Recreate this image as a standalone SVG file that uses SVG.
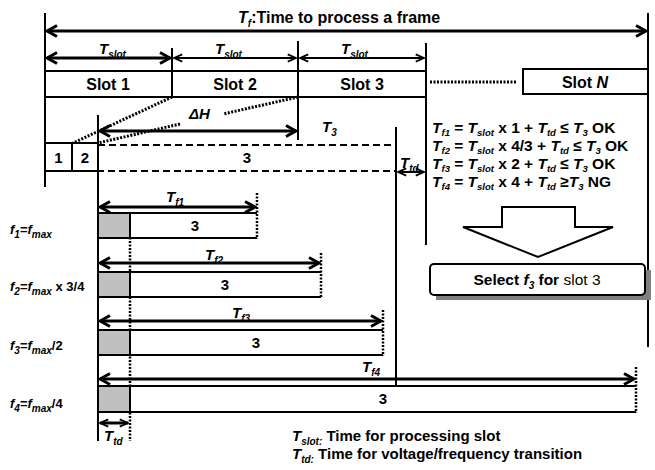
<svg xmlns="http://www.w3.org/2000/svg" width="655" height="470" viewBox="0 0 655 470">
<style>
text{font-family:"Liberation Sans",Arial,sans-serif;font-weight:bold;fill:#000}
.i{font-style:italic}
.s{font-size:10px;font-style:italic;baseline-shift:-4px}
.rl .s{font-size:9.5px;baseline-shift:-3px}
.ln{stroke:#000;stroke-width:2;fill:none}
.thk{stroke:#000;stroke-width:3;fill:none}
.thn{stroke:#000;stroke-width:2;fill:none}
.dot{stroke:#000;stroke-width:3;stroke-dasharray:2 1.5;fill:none}
.dotv{stroke:#000;stroke-width:2.5;stroke-dasharray:2 1.5;fill:none}
.dash{stroke:#000;stroke-width:2;stroke-dasharray:7 4;fill:none}
.box{fill:#fff;stroke:#000;stroke-width:2}
.gray{fill:#c0c0c0;stroke:#000;stroke-width:2}
.sl{font-size:16px}
.rl{font-size:15.5px}
</style>
<defs>
<marker id="ah" viewBox="0 0 14 14" refX="12" refY="7" markerWidth="14" markerHeight="14" markerUnits="userSpaceOnUse" orient="auto-start-reverse">
<path d="M2,1.5 L12,7 L2,12.5" fill="none" stroke="#000" stroke-width="3"/>
</marker>
<marker id="as" viewBox="0 0 12 12" refX="11" refY="6" markerWidth="11" markerHeight="11" markerUnits="userSpaceOnUse" orient="auto-start-reverse">
<path d="M2,2 L11,6 L2,10" fill="none" stroke="#000" stroke-width="2"/>
</marker>
</defs>

<g id="frame">
<line class="ln" x1="45" y1="13" x2="45" y2="187"/>
<line class="ln" x1="648" y1="13" x2="648" y2="347"/>
<line class="ln" x1="172" y1="48" x2="172" y2="97"/>
<line class="ln" x1="298" y1="41" x2="298" y2="140"/>
<line class="ln" x1="426" y1="43" x2="426" y2="245"/>
<line class="ln" x1="396" y1="127" x2="396" y2="413"/>
<line class="ln" x1="98" y1="115" x2="98" y2="441"/>
<line class="dotv" x1="130" y1="213" x2="130" y2="441"/>
</g>

<g id="title">
<text x="238" y="23" font-size="16"><tspan class="i">T</tspan><tspan class="s">f</tspan><tspan>:Time to process a frame</tspan></text>
</g>

<g id="slots">
<g id="slot1"><rect class="box" x="45" y="71" width="127" height="26"/><text class="sl" x="108" y="90" text-anchor="middle">Slot 1</text></g>
<g id="slot2"><rect class="box" x="172" y="71" width="126" height="26"/><text class="sl" x="235" y="90" text-anchor="middle">Slot 2</text></g>
<g id="slot3"><rect class="box" x="298" y="71" width="128" height="26"/><text class="sl" x="362" y="90" text-anchor="middle">Slot 3</text></g>
<g id="slotN"><rect class="box" x="523" y="69" width="125" height="25"/><text class="sl" x="585" y="88" text-anchor="middle">Slot <tspan class="i">N</tspan></text></g>
<text x="99" y="54" font-size="15"><tspan class="i">T</tspan><tspan class="s">slot</tspan></text>
<text x="215" y="54" font-size="15"><tspan class="i">T</tspan><tspan class="s">slot</tspan></text>
<text x="341" y="54" font-size="15"><tspan class="i">T</tspan><tspan class="s">slot</tspan></text>
</g>

<g id="sub">
<rect class="box" x="45" y="143" width="27" height="28"/>
<rect class="box" x="72" y="143" width="26" height="28"/>
<text x="58.5" y="163" font-size="15" text-anchor="middle">1</text>
<text x="85" y="163" font-size="15" text-anchor="middle">2</text>
<path class="dash" d="M98,145 H396 V171 H98"/>
<text x="247" y="163" font-size="15" text-anchor="middle">3</text>
<text x="189" y="119" font-size="15" class="i">ΔH</text>
<text x="322" y="132" font-size="15"><tspan class="i">T</tspan><tspan class="s">3</tspan></text>
<text x="400" y="168" font-size="15"><tspan class="i">T</tspan><tspan class="s">td</tspan></text>
</g>

<g id="rules">
<text class="rl" x="432" y="133"><tspan class="i">T</tspan><tspan class="s">f1</tspan> = <tspan class="i">T</tspan><tspan class="s">slot</tspan> x 1 + <tspan class="i">T</tspan><tspan class="s">td</tspan> ≤ <tspan class="i">T</tspan><tspan class="s">3</tspan> OK</text>
<text class="rl" x="432" y="151"><tspan class="i">T</tspan><tspan class="s">f2</tspan> = <tspan class="i">T</tspan><tspan class="s">slot</tspan> x 4/3 + <tspan class="i">T</tspan><tspan class="s">td</tspan> ≤ <tspan class="i">T</tspan><tspan class="s">3</tspan> OK</text>
<text class="rl" x="432" y="169"><tspan class="i">T</tspan><tspan class="s">f3</tspan> = <tspan class="i">T</tspan><tspan class="s">slot</tspan> x 2 + <tspan class="i">T</tspan><tspan class="s">td</tspan> ≤ <tspan class="i">T</tspan><tspan class="s">3</tspan> OK</text>
<text class="rl" x="432" y="187"><tspan class="i">T</tspan><tspan class="s">f4</tspan> = <tspan class="i">T</tspan><tspan class="s">slot</tspan> x 4 + <tspan class="i">T</tspan><tspan class="s">td</tspan> ≥<tspan class="i">T</tspan><tspan class="s">3</tspan>  NG</text>
</g>

<g id="bigarrow">
<path d="M502,207 H575 V227 H613 L538,257 L463,227 H502 Z" fill="#fff" stroke="#000" stroke-width="2"/>
</g>

<g id="select">
<rect x="436" y="270" width="215" height="30" fill="#808080"/>
<rect x="430" y="264" width="215" height="31" rx="4" fill="#fff" stroke="#000" stroke-width="2"/>
<text x="537" y="285" font-size="15.5" text-anchor="middle">Select <tspan class="i">f</tspan><tspan class="s">3</tspan> for <tspan font-weight="normal">slot 3</tspan></text>
</g>

<g id="row1">
<rect class="gray" x="98" y="213" width="32" height="25"/>
<path class="box" d="M257,213 H130 V238 H257"/>
<line class="dotv" x1="257" y1="193" x2="257" y2="239"/>
<text x="195" y="231" font-size="15" text-anchor="middle">3</text>
<text x="166" y="202" font-size="15"><tspan class="i">T</tspan><tspan class="s">f1</tspan></text>
<text x="10" y="234" font-size="13"><tspan class="i">f</tspan><tspan class="s">1</tspan>=<tspan class="i">f</tspan><tspan class="s">max</tspan></text>
</g>

<g id="row2">
<rect class="gray" x="98" y="272" width="32" height="25"/>
<path class="box" d="M321,272 H130 V297 H321"/>
<line class="dotv" x1="321" y1="253" x2="321" y2="298"/>
<text x="225" y="290" font-size="15" text-anchor="middle">3</text>
<text x="205" y="260" font-size="15"><tspan class="i">T</tspan><tspan class="s">f2</tspan></text>
<text x="10" y="291" font-size="13"><tspan class="i">f</tspan><tspan class="s">2</tspan>=<tspan class="i">f</tspan><tspan class="s">max</tspan> x 3/4</text>
</g>

<g id="row3">
<rect class="gray" x="98" y="330" width="32" height="25"/>
<path class="box" d="M383,330 H130 V355 H383"/>
<line class="dotv" x1="383" y1="310" x2="383" y2="356"/>
<text x="256" y="348" font-size="15" text-anchor="middle">3</text>
<text x="232" y="318" font-size="15"><tspan class="i">T</tspan><tspan class="s">f3</tspan></text>
<text x="10" y="350" font-size="13"><tspan class="i">f</tspan><tspan class="s">3</tspan>=<tspan class="i">f</tspan><tspan class="s">max</tspan>/2</text>
</g>

<g id="row4">
<rect class="gray" x="98" y="386" width="32" height="26"/>
<path class="box" d="M636,386 H130 V412 H636"/>
<line class="dotv" x1="636" y1="367" x2="636" y2="413"/>
<text x="383" y="404" font-size="15" text-anchor="middle">3</text>
<text x="362" y="372" font-size="15"><tspan class="i">T</tspan><tspan class="s">f4</tspan></text>
<text x="10" y="408" font-size="13"><tspan class="i">f</tspan><tspan class="s">4</tspan>=<tspan class="i">f</tspan><tspan class="s">max</tspan>/4</text>
<text x="104" y="441" font-size="15"><tspan class="i">T</tspan><tspan class="s">td</tspan></text>
</g>

<g id="legend">
<text x="292" y="441" font-size="15"><tspan class="i">T</tspan><tspan class="s">slot:</tspan> Time for processing slot</text>
<text x="292" y="459" font-size="15"><tspan class="i">T</tspan><tspan class="s">td:</tspan> Time for voltage/frequency transition</text>
</g>

<g id="connectors">
<line class="thk" x1="47" y1="31" x2="646" y2="31" marker-start="url(#ah)" marker-end="url(#ah)"/>
<line class="thk" x1="47" y1="58" x2="170" y2="58" marker-start="url(#ah)" marker-end="url(#ah)"/>
<line class="thn" x1="174" y1="58" x2="296" y2="58" marker-start="url(#as)" marker-end="url(#as)"/>
<line class="thn" x1="300" y1="58" x2="424" y2="58" marker-start="url(#as)" marker-end="url(#as)"/>
<line class="dot" x1="430" y1="82" x2="517" y2="82"/>
<line class="dot" x1="172" y1="97" x2="73" y2="143"/>
<line class="dot" x1="298" y1="97" x2="223" y2="114"/>
<line class="dot" x1="180" y1="124" x2="98" y2="143"/>
<line class="thk" x1="100" y1="131" x2="296" y2="131" marker-start="url(#ah)" marker-end="url(#ah)"/>
<line class="thn" x1="398" y1="172" x2="424" y2="172" marker-start="url(#as)" marker-end="url(#as)"/>
<line class="thk" x1="100" y1="207" x2="255" y2="207" marker-start="url(#ah)" marker-end="url(#ah)"/>
<line class="thk" x1="100" y1="263" x2="319" y2="263" marker-start="url(#ah)" marker-end="url(#ah)"/>
<line class="thk" x1="100" y1="321" x2="381" y2="321" marker-start="url(#ah)" marker-end="url(#ah)"/>
<line class="thk" x1="100" y1="379" x2="634" y2="379" marker-start="url(#ah)" marker-end="url(#ah)"/>
<line class="thk" x1="100" y1="423" x2="128" y2="423" marker-start="url(#as)" marker-end="url(#as)"/>
</g>
</svg>
